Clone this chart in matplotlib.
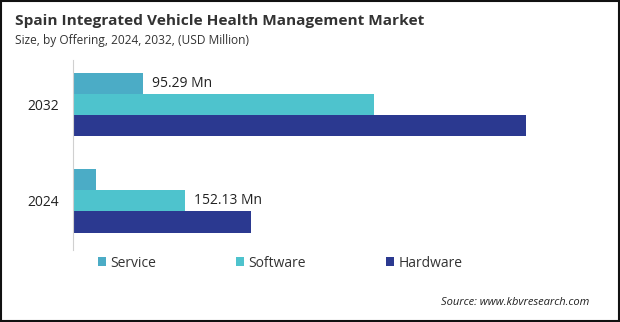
import numpy as np
import matplotlib.pyplot as plt
from matplotlib.patches import Rectangle

# data
years = ["2024", "2032"]
offerings = ["Service", "Software", "Hardware"]
service = [31.2, 95.29]
software = [152.13, 409.0]
hardware = [241.7, 615.0]
colors = ["#4BACC6", "#4EC3CD", "#2B3990"]

plt.rcParams["font.family"] = ["Open Sans", "DejaVu Sans"]

fig = plt.figure(figsize=(6.2, 3.22), dpi=100)
ax = fig.add_axes([0.1177, 0.2236, 0.85, 0.5901])

y = np.arange(len(years))
h = 0.22
series = [service, software, hardware]
offsets = [h, 0, -h]
for vals, off, col, name in zip(series, offsets, colors, offerings):
    ax.barh(y + off, vals, height=h, color=col, label=name)

# value labels
ax.text(service[1] + 12, y[1] + h, "95.29 Mn", va="center", ha="left",
        fontsize=10, color="#222222")
ax.text(software[0] + 12, y[0], "152.13 Mn", va="center", ha="left",
        fontsize=10, color="#222222")

ax.set_xlim(0, 715)
ax.set_ylim(-0.51, 1.46)
ax.set_yticks(y)
ax.set_yticklabels(years, fontsize=10, color="#222222")
ax.set_xticks([])
ax.tick_params(axis="y", length=0, pad=10)
for s in ["top", "right", "bottom"]:
    ax.spines[s].set_visible(False)
ax.spines["left"].set_color("#d0d0d0")
ax.spines["left"].set_linewidth(0.8)

fig.text(0.024, 0.935, "Spain Integrated Vehicle Health Management Market",
         fontsize=11.1, fontweight="bold", color="#333333", va="center")
fig.text(0.024, 0.873, "Size, by Offering, 2024, 2032, (USD Million)",
         fontsize=8.6, color="#333333", va="center")

fig.legend(loc="center left", bbox_to_anchor=(0.158, 0.183), ncol=3, frameon=False,
           fontsize=10, handlelength=0.55, handleheight=0.55, handletextpad=0.35,
           columnspacing=5.75, labelcolor="#333333", borderaxespad=0, borderpad=0)

fig.text(0.95, 0.062, "Source: www.kbvresearch.com", fontsize=8, style="italic",
         color="#222222", ha="right", va="center")

fig.patches.append(Rectangle((0.002, 0.003), 0.996, 0.994, transform=fig.transFigure,
                             fill=False, edgecolor="#111111", linewidth=1.5))

fig.savefig("out.png", dpi=100)
